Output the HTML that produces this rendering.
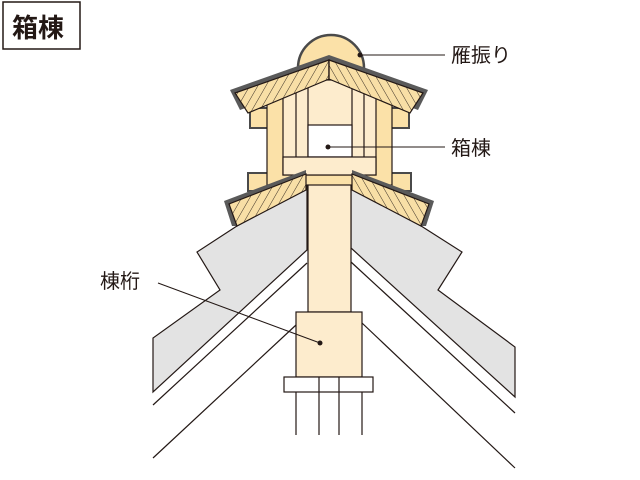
<!DOCTYPE html>
<html><head><meta charset="utf-8"><style>
html,body{margin:0;padding:0;background:#fff;}
svg{display:block;}
text{font-family:"Liberation Sans","Noto Sans CJK JP",sans-serif;fill:#231815;}
</style></head><body>
<svg width="640" height="480" viewBox="0 0 640 480" xmlns="http://www.w3.org/2000/svg">
<defs>
<pattern id="hl" width="7" height="7" patternUnits="userSpaceOnUse" patternTransform="rotate(30)">
<rect width="7" height="7" fill="#f8dfa6"/><line x1="0" y1="0" x2="0" y2="7" stroke="#3a2f25" stroke-width="1"/></pattern>
<pattern id="hr" width="7" height="7" patternUnits="userSpaceOnUse" patternTransform="rotate(-30)">
<rect width="7" height="7" fill="#f8dfa6"/><line x1="0" y1="0" x2="0" y2="7" stroke="#3a2f25" stroke-width="1"/></pattern>
</defs>
<rect x="3" y="2" width="77" height="47" fill="#fff" stroke="#231815" stroke-width="1.5"/>
<text x="12" y="37" font-size="26" font-weight="bold">箱棟</text>

<g stroke="#231815" stroke-width="1.2">
<!-- grey roofs -->
<polygon points="307,186 240,224 197,252 220,290 153,338 153,392 307,250" fill="#e3e3e3"/>
<polygon points="351,186 418,224 462,252 438,290 515,347 515,397 351,248" fill="#e3e3e3"/>
<line x1="153" y1="405" x2="307" y2="263"/>
<line x1="515" y1="413" x2="351" y2="262"/>
<line x1="153" y1="458" x2="296" y2="325"/>
<line x1="515" y1="468" x2="362" y2="323"/>
<!-- post and lower block -->
<rect x="308" y="175" width="43" height="137" fill="#fdeccd"/>
<rect x="296" y="312" width="66" height="65" fill="#fdeccd"/>
<rect x="284" y="377" width="89" height="15" fill="#fff"/>
<line x1="296" y1="392" x2="296" y2="435"/><line x1="319" y1="377" x2="319" y2="435"/>
<line x1="339" y1="377" x2="339" y2="435"/><line x1="362" y1="392" x2="362" y2="435"/>
<!-- dome -->
<circle cx="331" cy="68" r="33" fill="#fbe1a8" stroke="#4a4a4a" stroke-width="2.5"/>
<!-- box body -->
<rect x="250" y="108" width="23" height="20" fill="#fbe1a8" stroke="#4a4a4a" stroke-width="2"/>
<rect x="386" y="108" width="23" height="20" fill="#fbe1a8" stroke="#4a4a4a" stroke-width="2"/>
<rect x="248" y="173" width="22" height="18" fill="#fbe1a8" stroke="#4a4a4a" stroke-width="2"/>
<rect x="389" y="173" width="22" height="18" fill="#fbe1a8" stroke="#4a4a4a" stroke-width="2"/>
<rect x="267" y="95" width="125" height="90" fill="#fbe1a8"/>
<rect x="283" y="80" width="93" height="95" fill="#fdeccd"/>
<line x1="296" y1="85" x2="296" y2="157"/><line x1="308" y1="80" x2="308" y2="157"/>
<line x1="352" y1="80" x2="352" y2="157"/><line x1="364" y1="85" x2="364" y2="157"/>
<rect x="308" y="125" width="44" height="32" fill="#fff"/>
<rect x="283" y="157" width="93" height="18" fill="#fdeccd"/>
<!-- upper roof grey edges -->
<polygon points="329,55 230,90 240,110 329,77" fill="#5a5a5a" stroke="none"/>
<polygon points="329,55 428,90 418,110 329,77" fill="#5a5a5a" stroke="none"/>
<polygon points="329,60 235,93 248,113 329,79" fill="url(#hl)"/>
<polygon points="329,60 423,93 410,113 329,79" fill="url(#hr)"/>
<line x1="329" y1="60" x2="329" y2="79"/>
<!-- lower roof tiles -->
<polygon points="306,170 224,201 232,226 238,226 306,190" fill="#5a5a5a" stroke="none"/>
<polygon points="352,170 434,201 426,226 420,226 352,190" fill="#5a5a5a" stroke="none"/>
<polygon points="306,174 229,204 237,226 306,190" fill="url(#hl)"/>
<polygon points="352,174 429,204 421,226 352,190" fill="url(#hr)"/>
</g>
<!-- leaders -->
<g stroke="#231815" stroke-width="1">
<line x1="360" y1="55" x2="445" y2="55"/>
<line x1="329" y1="147" x2="445" y2="147"/>
<line x1="158" y1="283" x2="320" y2="343"/>
</g>
<circle cx="360" cy="55" r="2.5" fill="#231815"/>
<circle cx="328" cy="147" r="2.5" fill="#231815"/>
<circle cx="320" cy="343" r="2.5" fill="#231815"/>
<text x="451" y="62" font-size="20">雁振り</text>
<text x="451" y="155" font-size="20">箱棟</text>
<text x="100" y="288" font-size="20">棟桁</text>
</svg>
</body></html>
